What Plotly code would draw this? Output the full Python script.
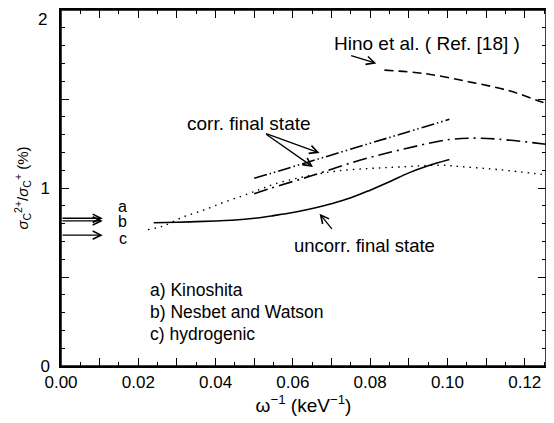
import plotly.graph_objects as go

# ---- data ----
uncorr_x = [0.024, 0.03, 0.035, 0.04, 0.045, 0.05, 0.055, 0.06, 0.065, 0.07, 0.075, 0.08, 0.085, 0.09, 0.095, 0.1005]
uncorr_y = [0.805, 0.808, 0.811, 0.815, 0.820, 0.830, 0.845, 0.862, 0.885, 0.912, 0.945, 0.988, 1.035, 1.085, 1.125, 1.160]

dotted_x = [0.0225, 0.0264, 0.0316, 0.0368, 0.0419, 0.0471, 0.0514, 0.0549, 0.0626, 0.0712, 0.080, 0.0876, 0.098, 0.1048, 0.1134, 0.1255]
dotted_y = [0.766, 0.786, 0.837, 0.875, 0.918, 0.957, 0.991, 1.020, 1.062, 1.095, 1.110, 1.118, 1.128, 1.118, 1.103, 1.074]

dashdot_x = [0.050, 0.054, 0.0652, 0.0773, 0.0893, 0.1005, 0.1074, 0.1134, 0.1255]
dashdot_y = [0.968, 0.997, 1.071, 1.156, 1.222, 1.272, 1.280, 1.274, 1.246]

dashdotdot_x = [0.050, 0.054, 0.0669, 0.0798, 0.0893, 0.1005]
dashdotdot_y = [1.055, 1.080, 1.165, 1.250, 1.312, 1.386]

hino_x = [0.0837, 0.094, 0.1057, 0.116, 0.1238, 0.1255]
hino_y = [1.662, 1.643, 1.596, 1.546, 1.488, 1.475]

ref_labels = ["a", "b", "c"]
ref_values = [0.830, 0.815, 0.735]
ref_label_y = [0.895, 0.812, 0.719]

legend_lines = ["a) Kinoshita", "b) Nesbet and Watson", "c) hydrogenic"]
legend_y = [0.425, 0.301, 0.177]

x_ticks = [0.00, 0.01, 0.02, 0.03, 0.04, 0.05, 0.06, 0.07, 0.08, 0.09, 0.10, 0.11, 0.12]
x_ticktext = ["0.00", " ", "0.02", " ", "0.04", " ", "0.06", " ", "0.08", " ", "0.10", " ", "0.12"]
y_ticks = [0, 0.5, 1, 1.5, 2]
y_ticktext = ["0", " ", "1", " ", " "]   # the "2" is placed as a label just under the page edge
y_top_label = "2"

FONT = "Liberation Sans, Arial, sans-serif"
LW = 1.6

fig = go.Figure()
fig.add_trace(go.Scatter(x=uncorr_x, y=uncorr_y, mode="lines",
                         line=dict(color="black", width=LW, shape="spline")))
fig.add_trace(go.Scatter(x=dotted_x, y=dotted_y, mode="lines",
                         line=dict(color="black", width=1.4, dash="1.5px,5px", shape="spline")))
fig.add_trace(go.Scatter(x=dashdot_x, y=dashdot_y, mode="lines",
                         line=dict(color="black", width=LW, dash="14px,5px,2px,5px", shape="spline")))
fig.add_trace(go.Scatter(x=dashdotdot_x, y=dashdotdot_y, mode="lines",
                         line=dict(color="black", width=LW, dash="13px,3px,1.5px,3px,1.5px,3px", shape="spline")))
fig.add_trace(go.Scatter(x=hino_x, y=hino_y, mode="lines",
                         line=dict(color="black", width=LW, dash="9px,5px", shape="spline")))

ann = []
def arrow(x0, y0, x1, y1):
    ann.append(dict(x=x1, y=y1, ax=x0, ay=y0, xref="x", yref="y", axref="x", ayref="y",
                    text="", showarrow=True, arrowhead=5, arrowsize=1.25, arrowwidth=1.3,
                    arrowcolor="black", standoff=0, startstandoff=0))

def label(x, y, t, anchor="left", size=17):
    ann.append(dict(x=x, y=y, xref="x", yref="y", text=t, showarrow=False,
                    xanchor=anchor, yanchor="middle",
                    font=dict(family=FONT, size=size, color="black")))

for v in ref_values:
    arrow(0.0, v, 0.0108, v)
for t, yv in zip(ref_labels, ref_label_y):
    label(0.016, yv, t, anchor="center", size=16)
for t, yv in zip(legend_lines, legend_y):
    label(0.0225, yv, t, size=17.5)

label(0.070, 1.814, "Hino et al. ( Ref. [18] )", size=19)
arrow(0.0747, 1.746, 0.0816, 1.700)
label(0.032, 1.364, "corr. final state", size=19)
arrow(0.0527, 1.308, 0.0669, 1.197)
arrow(0.0527, 1.308, 0.0652, 1.118)
label(0.0597, 0.678, "uncorr. final state", size=18.5)
arrow(0.0704, 0.762, 0.0669, 0.856)

ann.append(dict(x=0, y=2, xref="paper", yref="y", text=y_top_label, showarrow=False,
                xanchor="center", yanchor="top", xshift=-19, yshift=2,
                font=dict(family=FONT, size=17, color="black")))

axis_common = dict(showgrid=False, zeroline=False, showline=True, linecolor="black",
                   linewidth=1.5, ticks="inside", tickcolor="black", mirror="ticks",
                   tickwidth=1.3, ticklen=8, automargin=False,
                   tickfont=dict(family=FONT, size=17, color="black"))
xminor = dict(dtick=0.005, ticks="inside", ticklen=4, tickcolor="black", tickwidth=1.2)
yminor = dict(dtick=0.1, ticks="inside", ticklen=4, tickcolor="black", tickwidth=1.2)

fig.update_layout(
    xaxis=dict(range=[0, 0.1255], tickvals=x_ticks, ticktext=x_ticktext, minor=xminor,
               title=dict(text="ω<sup>−1</sup> (keV<sup>−1</sup>)",
                          font=dict(family=FONT, size=19, color="black"), standoff=4),
               **axis_common),
    yaxis=dict(range=[0, 2], tickvals=y_ticks, ticktext=y_ticktext, minor=yminor,
               ticklabelstandoff=6,
               title=dict(text="<i>σ</i><sub>C</sub><sup>2+</sup>/<i>σ</i><sub>C</sub><sup>+</sup> (%)",
                          font=dict(family=FONT, size=15, color="black"), standoff=8),
               **axis_common),
)

# frame of the plotting area
fig.add_shape(type="rect", xref="paper", yref="paper", x0=0, x1=1, y0=0, y1=1,
              line=dict(color="black", width=1.5), layer="above")

# the page body has an 8px margin, so the figure is sized/offset to compensate
fig.update_layout(width=546, height=415, autosize=False,
                  margin=dict(l=53, r=8, t=2, b=57),
                  plot_bgcolor="white", paper_bgcolor="white",
                  showlegend=False, annotations=ann)

fig.write_html("out.html")
